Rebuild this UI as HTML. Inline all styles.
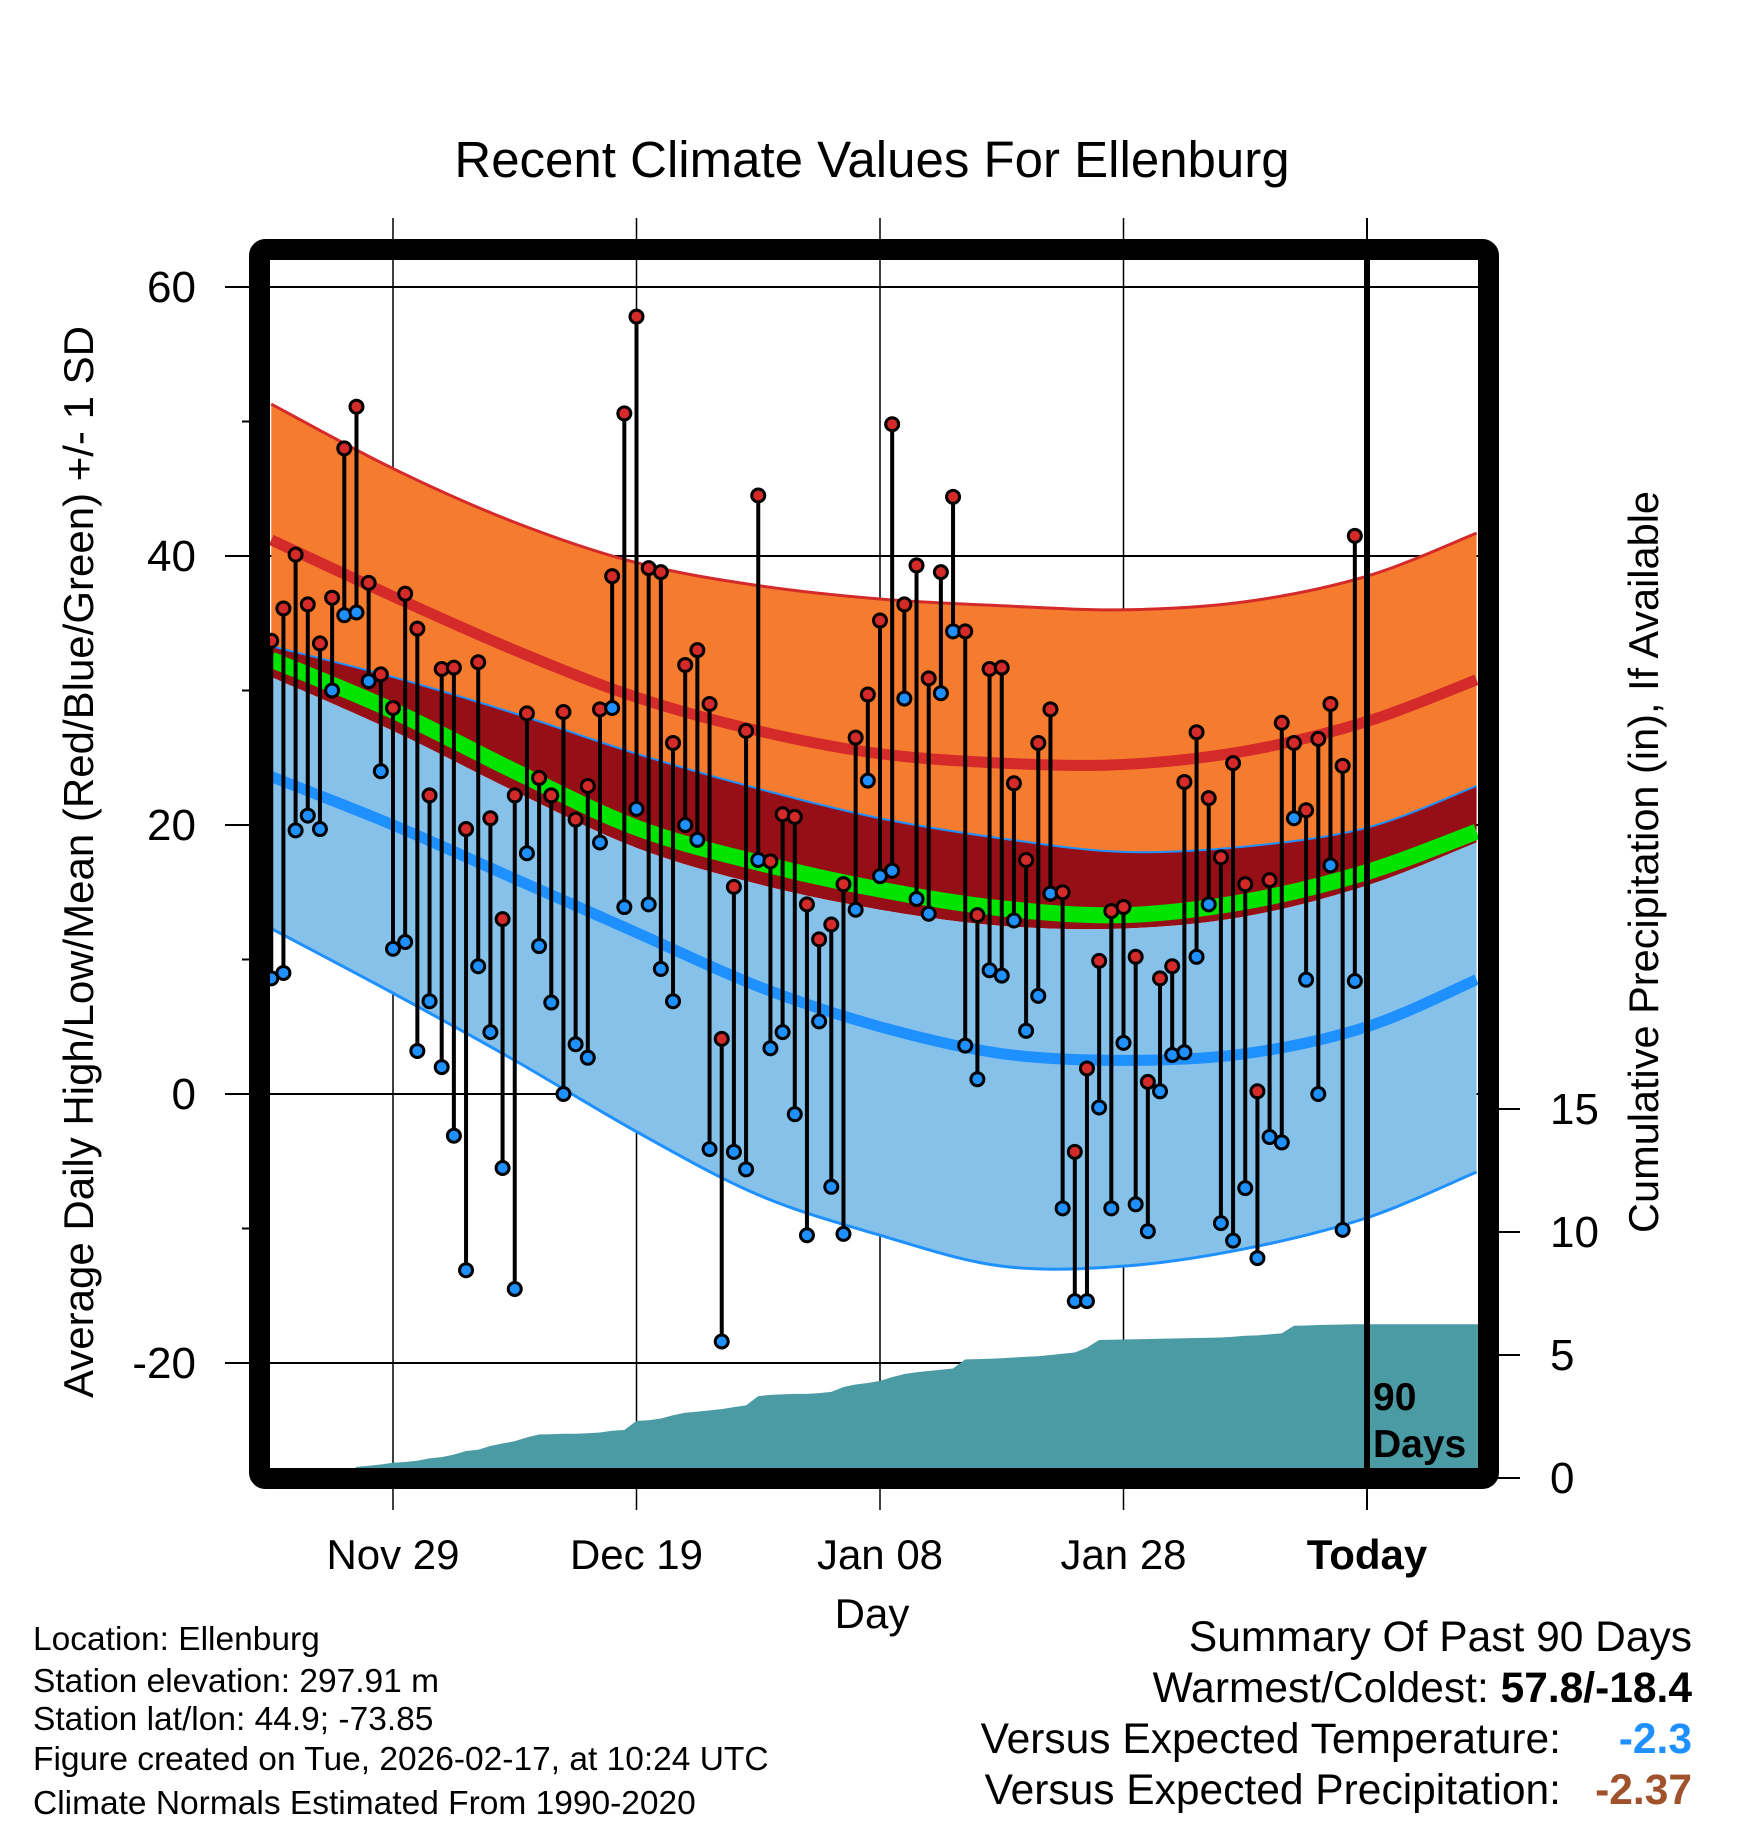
<!DOCTYPE html>
<html><head><meta charset="utf-8"><style>
html,body{margin:0;padding:0;background:#fff}
svg{display:block;font-family:"Liberation Sans",sans-serif}
</style></head><body>
<svg id="chart" width="1748" height="1828" viewBox="0 0 1748 1828" xmlns="http://www.w3.org/2000/svg">
<text x="872" y="177" font-size="51" text-anchor="middle">Recent Climate Values For Ellenburg</text>
<g id="grid"></g>
<g id="plot"></g>
<g id="axes"></g>
<text transform="translate(93,862) rotate(-90)" font-size="42" text-anchor="middle">Average Daily High/Low/Mean (Red/Blue/Green) +/- 1 SD</text>
<text transform="translate(1658,862) rotate(-90)" font-size="41.5" text-anchor="middle">Cumulative Precipitation (in), If Available</text>
<text x="872" y="1628" font-size="42" text-anchor="middle">Day</text>
<g font-size="33.5">
<text x="33" y="1650">Location: Ellenburg</text>
<text x="33" y="1692">Station elevation: 297.91 m</text>
<text x="33" y="1730">Station lat/lon: 44.9; -73.85</text>
<text x="33" y="1770">Figure created on Tue, 2026-02-17, at 10:24 UTC</text>
<text x="33" y="1814">Climate Normals Estimated From 1990-2020</text>
</g>
<g font-size="42.5">
<text x="1692" y="1651" text-anchor="end">Summary Of Past 90 Days</text>
<text x="1692" y="1702" text-anchor="end">Warmest/Coldest: <tspan font-weight="bold">57.8/-18.4</tspan></text>
<text x="1561" y="1753" text-anchor="end">Versus Expected Temperature:</text>
<text x="1692" y="1753" text-anchor="end" font-weight="bold" fill="#1e90ff">-2.3</text>
<text x="1561" y="1804" text-anchor="end">Versus Expected Precipitation:</text>
<text x="1692" y="1804" text-anchor="end" font-weight="bold" fill="#a0522d">-2.37</text>
</g>
</svg>
<script>
const highs=[33.7,36.1,40.1,36.4,33.5,36.9,48.0,51.1,38.0,31.2,28.7,37.2,34.6,22.2,31.6,31.7,19.7,32.1,20.5,13.0,22.2,28.3,23.5,22.2,28.4,20.4,22.9,28.6,38.5,50.6,57.8,39.1,38.8,26.1,31.9,33.0,29.0,4.1,15.4,27.0,44.5,17.3,20.8,20.6,14.1,11.5,12.6,15.6,26.5,29.7,35.2,49.8,36.4,39.3,30.9,38.8,44.4,34.4,13.3,31.6,31.7,23.1,17.4,26.1,28.6,15.0,-4.3,1.9,9.9,13.6,13.9,10.2,0.9,8.6,9.5,23.2,26.9,22.0,17.6,24.6,15.6,0.2,15.9,27.6,26.1,21.1,26.4,29.0,24.4,41.5];
const lows=[8.6,9.0,19.6,20.7,19.7,30.0,35.6,35.8,30.7,24.0,10.8,11.3,3.2,6.9,2.0,-3.1,-13.1,9.5,4.6,-5.5,-14.5,17.9,11.0,6.8,0.0,3.7,2.7,18.7,28.7,13.9,21.2,14.1,9.3,6.9,20.0,18.9,-4.1,-18.4,-4.3,-5.6,17.4,3.4,4.6,-1.5,-10.5,5.4,-6.9,-10.4,13.7,23.3,16.2,16.6,29.4,14.5,13.4,29.8,34.4,3.6,1.1,9.2,8.8,12.9,4.7,7.3,14.9,-8.5,-15.4,-15.4,-1.0,-8.5,3.8,-8.2,-10.2,0.2,2.9,3.1,10.2,14.1,-9.6,-10.9,-7.0,-12.2,-3.2,-3.6,20.5,8.5,0.0,17.0,-10.1,8.4];
const precip=[0,0,0,0,0,0,0,0.45,0.5,0.55,0.62,0.65,0.7,0.8,0.85,0.95,1.1,1.15,1.3,1.4,1.5,1.65,1.77,1.78,1.8,1.8,1.82,1.85,1.92,1.95,2.32,2.35,2.42,2.55,2.65,2.7,2.75,2.8,2.88,2.95,3.33,3.38,3.4,3.42,3.42,3.45,3.5,3.7,3.8,3.86,3.95,4.1,4.23,4.3,4.35,4.4,4.45,4.82,4.83,4.85,4.87,4.9,4.93,4.95,5.0,5.05,5.1,5.3,5.61,5.62,5.63,5.64,5.65,5.66,5.67,5.68,5.69,5.7,5.71,5.74,5.78,5.8,5.84,5.88,6.19,6.2,6.22,6.23,6.24,6.25];
const normDays=[-10,0,10,20,30,40,50,60,70,80,89];
const hiTop=[51.3,46.5,42.5,39.5,37.8,36.8,36.3,36.0,36.6,38.5,41.7];
const hiMean=[41.2,37.0,33.0,29.5,27.0,25.3,24.6,24.5,25.5,27.7,30.8];
const hiLow=[33.3,31.0,28.3,25.3,22.7,20.5,19.0,18.0,18.4,19.8,22.9];
const meanT=[32.3,28.5,24.0,19.8,17.2,15.2,13.8,13.3,14.3,16.5,19.5];
const loTop=[31.0,27.0,22.5,18.3,15.6,13.7,12.5,12.3,13.2,15.5,18.7];
const loMean=[23.6,20.0,16.0,12.0,8.0,5.0,3.0,2.5,3.0,5.0,8.5];
const loBot=[12.3,7.5,2.5,-2.8,-7.5,-10.5,-12.8,-12.8,-11.5,-9.2,-5.8];
const dateLabels=["Nov 29","Dec 19","Jan 08","Jan 28","Today"];
const dateDays=[0,20,40,60,80];
const yTicks=[60,40,20,0,-20];
const yMinor=[50,30,10,-10];
const pTicks=[0,5,10,15];
const firstDay=-10;

const NS="http://www.w3.org/2000/svg";
const L=270,R=1478,T=260,B=1468;
const X=d=>393+(d)*12.175;
const Y=v=>1094-v*13.45;
const P=p=>1478-p*24.6;
function mk(tag,attrs,parent){const e=document.createElementNS(NS,tag);for(const k in attrs)e.setAttribute(k,attrs[k]);parent.appendChild(e);return e;}
const grid=document.getElementById('grid'),plot=document.getElementById('plot'),axes=document.getElementById('axes');

const defs=mk('defs',{},plot);const cp=mk('clipPath',{id:'clip'},defs);mk('rect',{x:L,y:T,width:R-L,height:B-T},cp);
const g=mk('g',{'clip-path':'url(#clip)'},plot);



function segs(pts){let d='';
 for(let i=0;i<pts.length-1;i++){const p0=pts[Math.max(0,i-1)],p1=pts[i],p2=pts[i+1],p3=pts[Math.min(pts.length-1,i+2)];
  const c1=[p1[0]+(p2[0]-p0[0])/6,p1[1]+(p2[1]-p0[1])/6],c2=[p2[0]-(p3[0]-p1[0])/6,p2[1]-(p3[1]-p1[1])/6];
  d+=` C${c1[0]},${c1[1]} ${c2[0]},${c2[1]} ${p2[0]},${p2[1]}`;}
 return d;}
function linePath(arr){const pts=normDays.map((dd,i)=>[X(dd),Y(arr[i])]);return 'M'+pts[0][0]+','+pts[0][1]+segs(pts);}
function bandPath(top,bot){const rev=bot.slice().reverse();const days=normDays.slice().reverse();
 const pts=days.map((dd,i)=>[X(dd),Y(rev[i])]);
 return linePath(top)+' L'+pts[0][0]+','+pts[0][1]+segs(pts)+'Z';}
let e;
e=mk('path',{d:bandPath(hiTop,hiLow),fill:'#f57c2e'},g);


e=mk('path',{d:bandPath(hiLow,loTop),fill:'#960f16'},g);


e=mk('path',{d:bandPath(loTop,loBot),fill:'#85c1e9'},g);


e=mk('path',{d:linePath(hiTop),fill:'none',stroke:'#d42a2a',"stroke-width":3},g);


e=mk('path',{d:linePath(hiLow),fill:'none',stroke:'#1e90ff',"stroke-width":2},g);


e=mk('path',{d:linePath(loBot),fill:'none',stroke:'#1e90ff',"stroke-width":3},g);


e=mk('path',{d:linePath(hiMean),fill:'none',stroke:'#d42a2a',"stroke-width":11},g);


e=mk('path',{d:linePath(loMean),fill:'none',stroke:'#1e90ff',"stroke-width":11},g);


e=mk('path',{d:linePath(meanT),fill:'none',stroke:'#00e400',"stroke-width":16},g);



let pd='M'+X(firstDay)+','+P(0);
precip.forEach((p,i)=>{pd+=' L'+X(firstDay+i)+','+P(p);});
pd+=' L'+R+','+P(precip[precip.length-1])+' L'+R+','+B+' L'+L+','+B+'Z';
e=mk('path',{d:pd,fill:'#4a9ba4'},g);



yTicks.forEach(v=>{const l=mk('line',{x1:225,x2:R,y1:Y(v),y2:Y(v),stroke:'#000','stroke-width':2},grid);


const t=mk('text',{x:196,y:Y(v)+15,'font-size':44,'text-anchor':'end'},axes);t.textContent=v;

});
yMinor.forEach(v=>{const l=mk('line',{x1:242,x2:256,y1:Y(v),y2:Y(v),stroke:'#000','stroke-width':2},grid);

});
dateDays.forEach((d,i)=>{const today=i===dateDays.length-1;
 const l=mk('line',{x1:X(d),x2:X(d),y1:218,y2:1510,stroke:'#000','stroke-width':today?2:1.5},grid);
 
 
 if(today){const tl=mk('line',{x1:X(d),x2:X(d),y1:T,y2:B,stroke:'#000','stroke-width':6},plot);
  
  }
 const t=mk('text',{x:X(d),y:1569,'font-size':42,'text-anchor':'middle','font-weight':today?'bold':'normal'},axes);t.textContent=dateLabels[i];
 
 });
pTicks.forEach(p=>{const l=mk('line',{x1:1488,x2:1520,y1:P(p),y2:P(p),stroke:'#000','stroke-width':2},grid);
 
 
 const t=mk('text',{x:1550,y:P(p)+15,'font-size':44},axes);t.textContent=p;
 
 });

highs.forEach((h,i)=>{const x=X(firstDay+i);
 const s=mk('line',{x1:x,x2:x,y1:Y(h),y2:Y(lows[i]),stroke:'#000','stroke-width':4},plot);
 
 });
highs.forEach((h,i)=>{const x=X(firstDay+i);
 const c1=mk('circle',{cx:x,cy:Y(lows[i]),r:6.5,fill:'#1e90ff',stroke:'#000','stroke-width':3},plot);
 
 
 const c2=mk('circle',{cx:x,cy:Y(h),r:6.5,fill:'#d42a2a',stroke:'#000','stroke-width':3},plot);
 
 });

const fr=mk('rect',{x:259.5,y:249.5,width:1229,height:1229,fill:'none',stroke:'#000','stroke-width':21,rx:6},plot);


const t1=mk('text',{x:1373,y:1410,'font-size':39,'font-weight':'bold'},plot);t1.textContent='90';


const t2=mk('text',{x:1373,y:1457,'font-size':39,'font-weight':'bold'},plot);t2.textContent='Days';


</script>
</body></html>
